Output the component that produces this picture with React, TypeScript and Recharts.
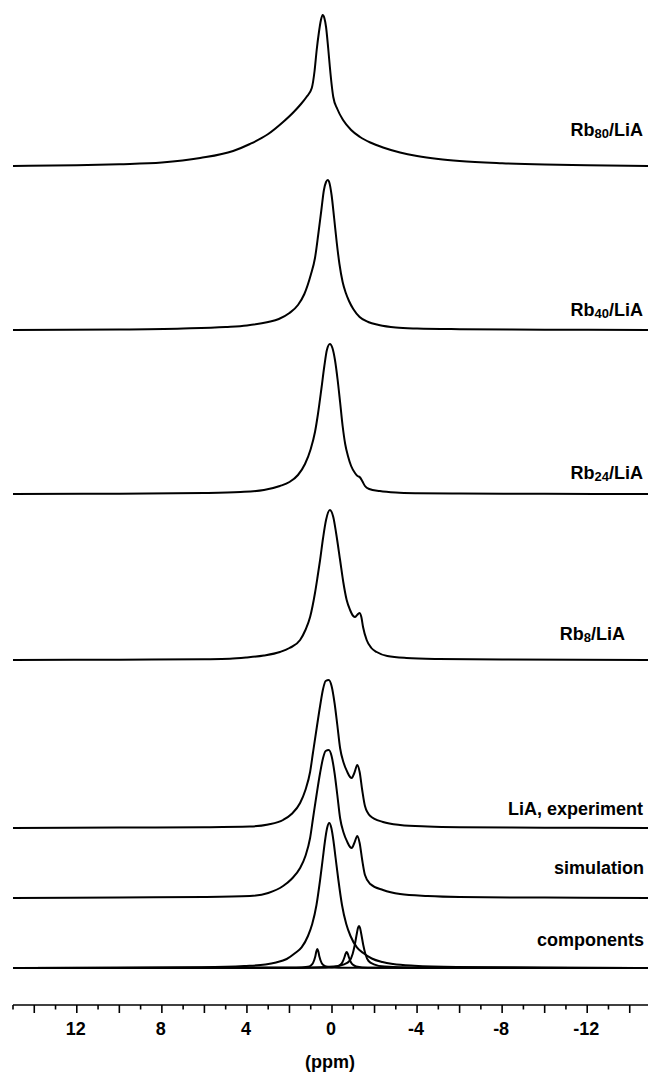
import React from 'react';
import { LineChart, Line, XAxis, YAxis } from 'recharts';

// chemical shift axis
const PPM_TICKS = [15, 14, 13, 12, 11, 10, 9, 8, 7, 6, 5, 4, 3, 2, 1, 0, -1, -2, -3, -4, -5, -6, -7, -8, -9, -10, -11, -12, -13, -14, -15];
const PPM_LABELS = [12, 8, 4, 0, -4, -8, -12];

// spectra, intensities
const rb80Ppm = [15, 12, 10, 8, 6.2, 4.65, 3.86, 3, 2.3, 1.8, 1.5, 1.2, 0.95, 0.82, 0.72, 0.62, 0.52, 0.44, 0.36, 0.28, 0.18, 0.1, 0.02, -0.06, -0.25, -0.52, -0.9, -1.32, -1.8, -2.4, -3.2, -4, -5, -6, -8, -10, -12, -15];
const rb80Int = [0, 0.8, 1.8, 3.5, 8, 15, 22, 32, 44, 54, 61, 69, 78, 95, 116, 133, 146, 151, 148, 139, 118, 99, 82, 69, 57, 46, 36, 29, 23.5, 18.5, 13.5, 10, 7, 5, 2.8, 1.5, 0.8, 0];

const rb40Ppm = [15, 10, 7, 5, 4, 3, 2.5, 2, 1.6, 1.3, 1.0, 0.8, 0.65, 0.5, 0.38, 0.28, 0.2, 0.12, 0.02, -0.1, -0.22, -0.35, -0.5, -0.65, -0.8, -1.0, -1.3, -1.7, -2.2, -3, -4, -6, -10, -15];
const rb40Int = [0, 0.5, 1.5, 3, 4.5, 8, 11, 17, 25, 36, 55, 72, 95, 120, 140, 148, 150, 147, 135, 112, 88, 66, 48, 37, 29, 21, 13, 8, 5, 2.5, 1.5, 0.8, 0.3, 0];

const rb24Ppm = [15, 10, 6, 4.3, 3.2, 2.45, 2, 1.6, 1.27, 1.0, 0.8, 0.66, 0.5, 0.36, 0.24, 0.1, -0.02, -0.14, -0.26, -0.38, -0.5, -0.62, -0.75, -0.9, -1.08, -1.2, -1.3, -1.42, -1.55, -1.75, -2.25, -3, -4, -6, -10, -15];
const rb24Int = [0, 0.3, 1, 2, 4, 8, 12, 19, 30, 45, 62, 80, 105, 128, 144, 150, 146, 134, 115, 92, 68, 50, 38, 28, 21, 18, 17, 13, 8, 5, 3, 1.5, 0.8, 0.4, 0.2, 0];

const rb8Ppm = [15, 10, 6, 4.8, 4.0, 3.2, 2.45, 2, 1.5, 1.25, 1.03, 0.8, 0.68, 0.56, 0.42, 0.28, 0.1, -0.06, -0.2, -0.38, -0.53, -0.69, -0.85, -1.0, -1.08, -1.18, -1.29, -1.38, -1.46, -1.63, -1.85, -2.1, -2.6, -3.5, -5, -8, -15];
const rb8Int = [0, 0.3, 0.8, 1.2, 2.5, 4.5, 8, 12, 20, 30, 43, 67, 83, 100, 122, 140, 150, 143, 126, 100, 78, 60, 50, 44, 43, 45, 47, 43, 33, 20, 12, 8, 4, 2, 1, 0.4, 0];

const liaPpm = [15, 10, 6, 3.86, 3, 2.3, 1.9, 1.5, 1.25, 1.03, 0.89, 0.72, 0.56, 0.42, 0.3, 0.15, 0.02, -0.12, -0.25, -0.38, -0.55, -0.72, -0.85, -0.93, -1.05, -1.19, -1.3, -1.42, -1.55, -1.8, -2.4, -3.2, -4.5, -6, -10, -15];
const liaInt = [0, 0.4, 0.8, 1.5, 3.5, 8, 14, 25, 38, 56, 76, 100, 122, 139, 147, 148, 142, 125, 103, 80, 65, 56, 51, 50, 55, 63, 56, 38, 22, 12, 6, 3, 1.5, 0.8, 0.3, 0];

const simPpm = [15, 10, 6, 3.86, 3, 2.3, 1.9, 1.5, 1.25, 1.03, 0.89, 0.72, 0.56, 0.42, 0.3, 0.15, 0.02, -0.12, -0.25, -0.38, -0.55, -0.72, -0.85, -0.93, -1.05, -1.19, -1.3, -1.42, -1.55, -1.8, -2.4, -3.2, -4.5, -6, -10, -15];
const simInt = [0, 0.5, 1, 2, 5, 12, 19, 30, 42, 60, 80, 104, 125, 140, 147, 148, 142, 125, 103, 80, 65, 56, 51, 50, 55, 62, 55, 38, 23, 14, 8, 4, 2, 1, 0.4, 0];

// fitted components
const compMainPpm = [15, 10.13, 6.13, 4.13, 3.13, 2.63, 2.13, 1.73, 1.43, 1.13, 0.93, 0.73, 0.56, 0.43, 0.33, 0.23, 0.13, 0.03, -0.07, -0.17, -0.3, -0.47, -0.67, -0.87, -1.17, -1.47, -1.87, -2.37, -2.87, -3.87, -5.87, -9.87, -15];
const compMainInt = [0, 0.3, 0.8, 2, 3.5, 5.5, 9, 15, 20.6, 32, 44, 63, 88, 110, 127, 140, 145, 140, 127, 110, 88, 63, 44, 32, 20.6, 15, 9.5, 6, 4, 2.2, 0.9, 0.3, 0];

const compAPpm = [15, 1.69, 1.14, 0.99, 0.89, 0.79, 0.74, 0.69, 0.64, 0.59, 0.49, 0.39, 0.24, -0.31, -15];
const compAInt = [0, 0.3, 1.3, 2.6, 5.1, 11.2, 16.2, 19, 16.2, 11.2, 5.1, 2.6, 1.3, 0.3, 0];

const compBPpm = [15, 0.31, -0.24, -0.39, -0.49, -0.59, -0.64, -0.69, -0.74, -0.79, -0.89, -0.99, -1.14, -1.69, -15];
const compBInt = [0, 0.35, 1.6, 3.2, 5.8, 11, 14.4, 16, 14.4, 11, 5.8, 3.2, 1.6, 0.35, 0];

const compCPpm = [15, 1.23, -0.07, -0.57, -0.82, -0.97, -1.07, -1.17, -1.22, -1.27, -1.32, -1.37, -1.47, -1.57, -1.72, -1.97, -2.47, -3.77, -15];
const compCInt = [0, 0.3, 1.4, 3.7, 7, 14, 23, 34.8, 40, 42, 40, 34.8, 23, 14, 7, 3.7, 1.4, 0.3, 0];

// layout: baseline of each trace (chart units, 1 unit = 1 px)
const OFFSETS = { rb80: 839, rb40: 675, rb24: 511, rb8: 345, lia: 177, sim: 107, comp: 37 };

const build = (ppm: number[], vals: number[], off: number) =>
  ppm.map((p, i) => ({ ppm: p, y: off + vals[i] }));

const SERIES = [
  build(rb80Ppm, rb80Int, OFFSETS.rb80),
  build(rb40Ppm, rb40Int, OFFSETS.rb40),
  build(rb24Ppm, rb24Int, OFFSETS.rb24),
  build(rb8Ppm, rb8Int, OFFSETS.rb8),
  build(liaPpm, liaInt, OFFSETS.lia),
  build(simPpm, simInt, OFFSETS.sim),
  build(compMainPpm, compMainInt, OFFSETS.comp),
  build(compAPpm, compAInt, OFFSETS.comp),
  build(compBPpm, compBInt, OFFSETS.comp),
  build(compCPpm, compCInt, OFFSETS.comp),
];

const FONT = '"Liberation Sans", Arial, Helvetica, sans-serif';

const PpmTick = (props: any) => {
  const { x, y, payload } = props;
  const v = payload.value;
  const major = v % 2 === 0;
  return (
    <g>
      <line x1={x} x2={x} y1={y} y2={y + (major ? 8 : 4.5)} stroke="#000" strokeWidth={1.6} />
      {PPM_LABELS.includes(v) && (
        <text x={x - 1} y={y + 30} textAnchor="middle" fontFamily={FONT} fontWeight="bold" fontSize={18} fill="#000">
          {v}
        </text>
      )}
    </g>
  );
};

const Sub = ({ x, y, main, sub, rest }: { x: number; y: number; main: string; sub?: string; rest?: string }) => (
  <text x={x} y={y} textAnchor="end" fontFamily={FONT} fontWeight="bold" fontSize={18} fill="#000">
    {main}
    {sub && (
      <tspan fontSize={13} dy={2}>
        {sub}
      </tspan>
    )}
    {rest && <tspan dy={sub ? -2 : 0}>{rest}</tspan>}
  </text>
);

export default function App() {
  return (
    <div style={{ position: 'fixed', left: 0, top: 0, width: 648, height: 1074, overflow: 'hidden', background: '#fff' }}>
      <LineChart width={652} height={1074} margin={{ top: 5, right: 1, left: 13, bottom: 0 }}>
        <XAxis
          dataKey="ppm"
          type="number"
          domain={[-15, 15]}
          reversed
          allowDataOverflow
          ticks={PPM_TICKS}
          interval={0}
          tick={<PpmTick />}
          tickSize={0}
          tickMargin={0}
          tickLine={false}
          height={69}
          axisLine={{ stroke: '#000', strokeWidth: 1.7 }}
        />
        <YAxis hide type="number" domain={[0, 1000]} allowDataOverflow />
        {SERIES.map((d, i) => (
          <Line
            key={i}
            data={d}
            dataKey="y"
            type="monotone"
            stroke="#000"
            strokeWidth={2}
            dot={false}
            activeDot={false}
            isAnimationActive={false}
          />
        ))}
      </LineChart>
      <svg width={648} height={1074} style={{ position: 'absolute', left: 0, top: 0, pointerEvents: 'none' }}>
        <Sub x={643} y={136} main="Rb" sub="80" rest="/LiA" />
        <Sub x={643} y={316} main="Rb" sub="40" rest="/LiA" />
        <Sub x={643} y={479} main="Rb" sub="24" rest="/LiA" />
        <Sub x={625} y={640} main="Rb" sub="8" rest="/LiA" />
        <Sub x={643} y={815} main="LiA, experiment" />
        <Sub x={644} y={874} main="simulation" />
        <Sub x={644} y={946} main="components" />
        <text x={330} y={1068} textAnchor="middle" fontFamily={FONT} fontWeight="bold" fontSize={18} fill="#000">
          (ppm)
        </text>
      </svg>
    </div>
  );
}
